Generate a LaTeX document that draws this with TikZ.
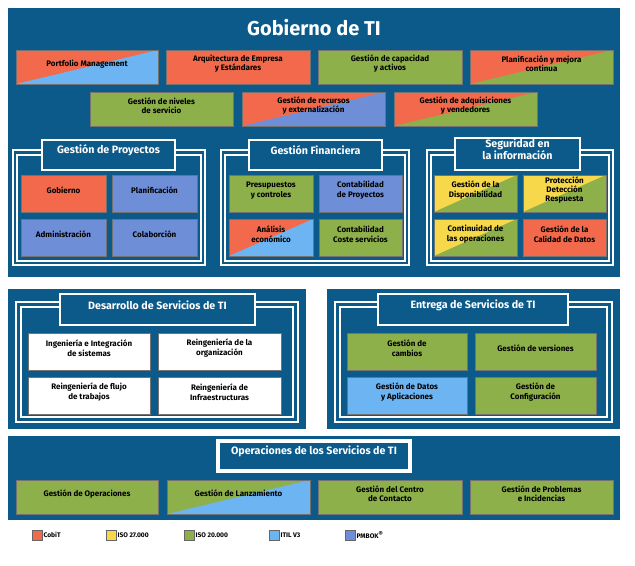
\documentclass[tikz,border=0pt]{standalone}
\usepackage{fontspec}
\setmainfont{Fira Sans}
\usetikzlibrary{fit}
\definecolor{bg}{HTML}{0B5A8A}
\definecolor{cR}{HTML}{F26A4B}
\definecolor{cG}{HTML}{8DB04A}
\definecolor{cL}{HTML}{6CB4F2}
\definecolor{cP}{HTML}{6F8ED8}
\definecolor{cY}{HTML}{F6D84A}
\tikzset{
 box/.style={inner sep=0pt, draw=black!55, line width=0.4pt, align=center, font=\bfseries\fontsize{6}{7}\selectfont},
 split/.style={path picture={\fill[#1] (path picture bounding box.south west) -- (path picture bounding box.south east) -- (path picture bounding box.north east) -- cycle;}},
 panel/.style={fill=bg, draw=none},
 frame/.style={draw=white, line width=2.2pt},
 inner/.style={draw=white, line width=1.2pt},
 head/.style={fill=bg, draw=white, line width=2.2pt, inner sep=0pt, align=center, text=white, font=\bfseries\fontsize{8}{9}\selectfont},
 lg/.style={draw=black!60, line width=0.4pt, minimum size=7.5pt, inner sep=0pt},
 lgt/.style={anchor=west, font=\bfseries\fontsize{5}{6}\selectfont, inner sep=1pt}
}
\begin{document}
\begin{tikzpicture}[x=0.75pt,y=-0.75pt]
\useasboundingbox (0,0) rectangle (635,566);
% top panel
\fill[panel] (8,8) rectangle (620,277);
\node[text=white, font=\bfseries\fontsize{15}{17}\selectfont] (t) at (314,28) {Gobierno de TI};
\node[box, fill=cR, split=cL, fit={(16,50)(158,84)}] (b1) {Portfolio Management};
\node[box, fill=cR, fit={(166,50)(310,84)}] (b2) {Arquitectura de Empresa\\y Estándares};
\node[box, fill=cG, fit={(318,50)(462,84)}] (b3) {Gestión de capacidad\\y activos};
\node[box, fill=cR, split=cG, fit={(470,50)(613,84)}] (b4) {Planificación y mejora\\continua};
\node[box, fill=cG, fit={(90,92)(233,126)}] (b5) {Gestión de niveles\\de servicio};
\node[box, fill=cR, split=cP, fit={(242,92)(385,126)}] (b6) {Gestión de recursos\\y externalización};
\node[box, fill=cR, split=cG, fit={(394,92)(537,126)}] (b7) {Gestión de adquisiciones\\y vendedores};
% sub-panels
\foreach \a/\b in {13/205,221/409,427/613}{
 \draw[frame] (\a,150) rectangle (\b,265);
 \draw[inner] (\a+4,155) rectangle (\b-4,261);
}
\node[head, fit={(42,140)(175,170)}] (h1) {Gestión de Proyectos};
\node[head, fit={(249,140)(382,170)}] (h2) {Gestión Financiera};
\node[head, fit={(455,138)(580,170)}] (h3) {Seguridad en\\la información};
\node[box, fill=cR, fit={(21,175)(106,212)}] (p1) {Gobierno};
\node[box, fill=cP, fit={(112,175)(197,212)}] (p2) {Planificación};
\node[box, fill=cP, fit={(21,219)(106,256)}] (p3) {Administración};
\node[box, fill=cP, fit={(112,219)(197,256)}] (p4) {Colaborción};
\node[box, fill=cG, fit={(229,175)(313,212)}] (f1) {Presupuestos\\y controles};
\node[box, fill=cP, fit={(319,175)(402,212)}] (f2) {Contabilidad\\de Proyectos};
\node[box, fill=cR, split=cL, fit={(229,219)(313,256)}] (f3) {Análisis\\económico};
\node[box, fill=cG, fit={(319,219)(402,256)}] (f4) {Contabilidad\\Coste servicios};
\node[box, fill=cY, split=cG, fit={(434,175)(517,212)}] (s1) {Gestión de la\\Disponibilidad};
\node[box, fill=cY, split=cG, fit={(523,175)(606,212)}] (s2) {Protección\\Detección\\Respuesta};
\node[box, fill=cY, split=cG, fit={(434,219)(517,256)}] (s3) {Continuidad de\\las operaciones};
\node[box, fill=cR, fit={(523,219)(606,256)}] (s4) {Gestión de la\\Calidad de Datos};
% middle panels
\fill[panel] (8,289) rectangle (306,429);
\fill[panel] (327,289) rectangle (620,429);
\draw[frame] (16,302) rectangle (298,422);
\draw[inner] (21,307) rectangle (293,417);
\draw[frame] (335,302) rectangle (612,422);
\draw[inner] (340,307) rectangle (607,417);
\node[head, fit={(60,294)(255,325)}] (h4) {Desarrollo de Servicios de TI};
\node[head, fit={(378,294)(568,325)}] (h5) {Entrega de Servicios de TI};
\node[box, fill=white, fit={(28,333)(150,370)}] (d1) {Ingeniería e Integración\\de sistemas};
\node[box, fill=white, fit={(158,333)(281,370)}] (d2) {Reingeniería de la\\organización};
\node[box, fill=white, fit={(28,377)(150,414)}] (d3) {Reingeniería de flujo\\de trabajos};
\node[box, fill=white, fit={(158,377)(281,414)}] (d4) {Reingeniería de\\Infraestructuras};
\node[box, fill=cG, fit={(347,333)(467,370)}] (e1) {Gestión de\\cambios};
\node[box, fill=cG, fit={(475,333)(596,370)}] (e2) {Gestión de versiones};
\node[box, fill=cL, fit={(347,377)(467,414)}] (e3) {Gestión de Datos\\y Aplicaciones};
\node[box, fill=cG, fit={(475,377)(596,414)}] (e4) {Gestión de\\Configuración};
% bottom panel
\fill[panel] (8,436) rectangle (620,520);
\node[head, line width=2.6pt, fit={(218,441)(410,471)}] (h6) {Operaciones de los Servicios de TI};
\node[box, fill=cG, fit={(16,480)(158,514)}] (o1) {Gestión de Operaciones};
\node[box, fill=cG, split=cL, fit={(167,480)(310,514)}] (o2) {Gestión de Lanzamiento};
\node[box, fill=cG, fit={(318,480)(462,514)}] (o3) {Gestión del Centro\\de Contacto};
\node[box, fill=cG, fit={(470,480)(613,514)}] (o4) {Gestión de Problemas\\e Incidencias};
% legend
\node[lg, fill=cR] (l1) at (37,535) {}; \node[lgt] at (42,535) {CobiT};
\node[lg, fill=cY] (l2) at (111,535) {}; \node[lgt] at (116,535) {ISO 27.000};
\node[lg, fill=cG] (l3) at (189,535) {}; \node[lgt] at (194,535) {ISO 20.000};
\node[lg, fill=cL] (l4) at (274,535) {}; \node[lgt] at (279,535) {ITIL V3};
\node[lg, fill=cP] (l5) at (350,535) {}; \node[lgt] at (355,535) {PMBOK\textsuperscript{®}};
\end{tikzpicture}
\end{document}
